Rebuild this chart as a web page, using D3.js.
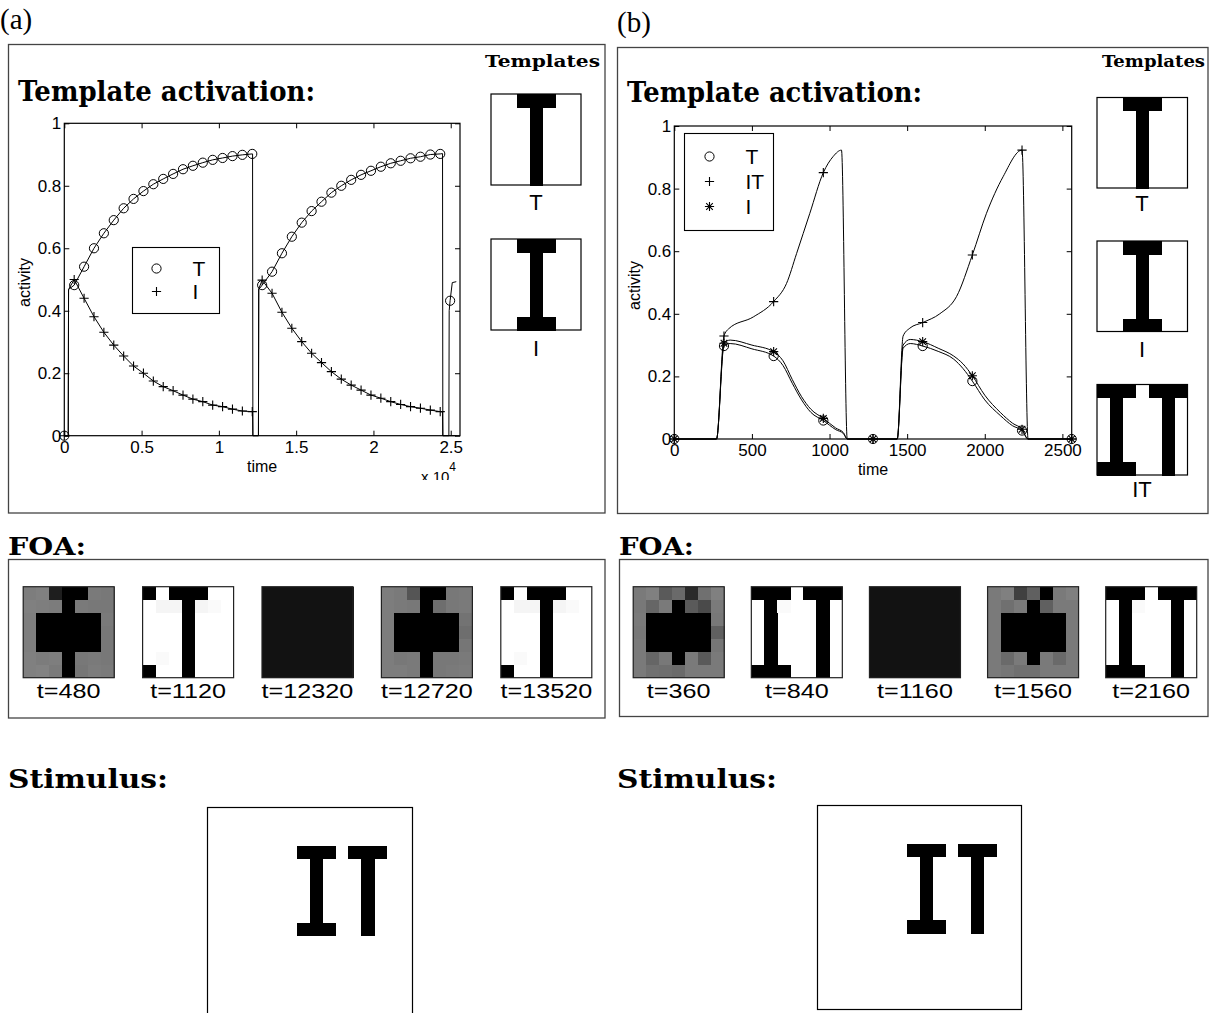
<!DOCTYPE html>
<html lang="en">
<head>
<meta charset="utf-8" />
<title>Template activation / FOA / Stimulus</title>
<script src="https://d3js.org/d3.v7.min.js"></script>
<style>
  body { margin: 0; background: #fff; }
  text { font-family: "Liberation Sans", Arial, sans-serif; fill: #000; }
  .title { font-family: "DejaVu Serif", serif; font-weight: bold; }
  .plabel { font-family: "Liberation Serif", serif; }
  rect.cell { shape-rendering: crispEdges; }
</style>
</head>
<body>
<div id="fig"></div>
<script>
// ---------- panel (a): template activation ----------
var aTimes = [0, 640, 1280, 1920, 2560, 3200, 3840, 4480, 5120, 5760, 6400, 7040, 7680, 8320,
  8960, 9600, 10240, 10880, 11520, 12160, 12800, 13440, 14080, 14720, 15360, 16000, 16640,
  17280, 17920, 18560, 19200, 19840, 20480, 21120, 21760, 22400, 23040, 23680, 24320, 24960];
var aT = [0, .482, .541, .600, .648, .690, .728, .758, .783, .805, .822, .838, .853, .864, .874,
  .883, .889, .895, .899, .902, .482, .525, .584, .637, .682, .719, .749, .778, .800, .819, .835,
  .848, .861, .872, .880, .888, .893, .900, .902, .432];
var aI = [0, .500, .440, .381, .331, .290, .255, .223, .200, .175, .157, .144, .130, .117, .109,
  .098, .093, .085, .079, .077, .498, .456, .395, .344, .301, .264, .234, .205, .181, .162, .146,
  .130, .120, .109, .100, .093, .088, .082, .077, null];
// extra curve points between markers (jumps at the saccades)
var aTEdges = [[255, 0], [275, .468], [12180, .902], [12200, 0], [12560, 0], [12580, .468],
  [24470, .903], [24490, 0], [24880, 0], [24900, .40], [25100, .49], [25360, .493]];
var aIEdges = [[255, 0], [275, .468], [12180, .077], [12200, 0], [12560, 0], [12580, .47],
  [24470, .076], [24490, 0], [25360, 0]];
var aXTicks = [0, 5000, 10000, 15000, 20000, 25000];
var aXLabels = ["0", "0.5", "1", "1.5", "2", "2.5"];

// ---------- panel (b): template activation ----------
var bTimes = [0, 320, 640, 960, 1280, 1600, 1920, 2240, 2560];
var bT  = [0, .297, .265, .059, 0, .297, .185, .027, 0];
var bIT = [0, .329, .439, .851, 0, .372, .588, .923, 0];
var bI  = [0, .306, .279, .066, 0, .311, .202, .031, 0];
var bTEdges = [[272, 0], [360, .305], [500, .288], [700, .235], [760, .178], [820, .125], [880, .085],
  [1040, .03], [1090, .017], [1114, 0], [1436, 0], [1474, .29], [1520, .305], [1700, .28],
  [1800, .255], [1860, .225], [2000, .125], [2100, .075], [2180, .042], [2279, 0]];
var bITEdges = [[272, 0], [350, .352], [509, .39], [723, .497], [788, .593], [873, .721],
  [1024, .903], [1077, .923], [1114, 0], [1436, 0], [1474, .329], [1517, .354], [1710, .4],
  [1818, .455], [2011, .721], [2118, .838], [2279, 0]];
var bIEdges = [[272, 0], [360, .316], [500, .30], [700, .25], [760, .19], [820, .135], [880, .095],
  [1040, .035], [1090, .02], [1114, 0], [1436, 0], [1474, .30], [1520, .318], [1700, .29],
  [1800, .265], [1860, .24], [2000, .14], [2100, .085], [2180, .05], [2279, 0]];
var bXTicks = [0, 500, 1000, 1500, 2000, 2500];
var bXLabels = ["0", "500", "1000", "1500", "2000", "2500"];

var yTicks = [0, 0.2, 0.4, 0.6, 0.8, 1];
var yLabels = ["0", "0.2", "0.4", "0.6", "0.8", "1"];

// ---------- templates (7x7, 1 = black) ----------
var tplT  = ["0011100", "0001000", "0001000", "0001000", "0001000", "0001000", "0001000"];
var tplI  = ["0011100", "0001000", "0001000", "0001000", "0001000", "0001000", "0011100"];
var tplIT = ["1110111", "0100010", "0100010", "0100010", "0100010", "0100010", "1110010"];

// ---------- focus of attention snapshots (grey levels 0..255) ----------
var foaALabels = ["t=480", "t=1120", "t=12320", "t=12720", "t=13520"];
var foaA = [
  [[125,128,30,0,0,122,120],[128,126,124,0,122,120,120],[126,0,0,0,0,0,122],[126,0,0,0,0,0,120],
   [126,0,0,0,0,0,120],[128,124,126,0,120,122,120],[128,130,122,0,118,124,122]],
  [[0,255,0,0,0,255,255],[255,245,245,0,245,250,255],[255,255,255,0,255,255,255],[255,255,255,0,255,255,255],
   [255,255,255,0,255,255,255],[255,250,255,0,255,255,255],[0,255,255,0,255,255,255]],
  [[18,18,18,18,18,18,18],[18,18,18,18,18,18,18],[18,18,18,18,18,18,18],[18,18,18,18,18,18,18],
   [18,18,18,18,18,18,18],[18,18,18,18,18,18,18],[18,18,18,18,18,18,18]],
  [[125,122,85,0,0,120,122],[125,122,120,0,110,120,122],[125,0,0,0,0,0,115],[125,0,0,0,0,0,110],
   [125,0,0,0,0,0,118],[125,120,122,0,120,120,122],[125,125,122,0,120,122,124]],
  [[0,255,0,0,0,255,255],[255,245,245,0,245,250,255],[255,255,255,0,255,255,255],[255,255,255,0,255,255,255],
   [255,255,255,0,255,255,255],[255,250,255,0,255,255,255],[0,255,255,0,255,255,255]]
];
var foaBLabels = ["t=360", "t=840", "t=1160", "t=1560", "t=2160"];
var foaB = [
  [[122,128,90,106,42,112,128],[120,102,122,0,90,74,122],[122,0,0,0,0,0,120],[120,0,0,0,0,0,96],
   [122,0,0,0,0,0,118],[122,102,120,0,122,90,122],[122,112,110,106,122,122,122]],
  [[0,0,0,255,0,0,0],[255,0,250,255,255,0,255],[255,0,255,255,255,0,255],[255,0,255,255,255,0,255],
   [255,0,255,255,255,0,255],[255,0,255,255,255,0,255],[0,0,0,255,255,0,255]],
  [[18,18,18,18,18,18,18],[18,18,18,18,18,18,18],[18,18,18,18,18,18,18],[18,18,18,18,18,18,18],
   [18,18,18,18,18,18,18],[18,18,18,18,18,18,18],[18,18,18,18,18,18,18]],
  [[122,128,64,96,0,122,128],[122,112,122,0,96,122,122],[122,0,0,0,0,0,122],[122,0,0,0,0,0,122],
   [122,0,0,0,0,0,122],[122,106,122,0,122,106,122],[122,118,112,112,122,122,122]],
  [[0,0,0,255,0,0,0],[255,0,250,255,255,0,255],[255,0,255,255,255,0,255],[255,0,255,255,255,0,255],
   [255,0,255,255,255,0,255],[255,0,255,255,255,0,255],[0,0,0,255,255,0,255]]
];

// ---------- stimulus (16x16) ----------
var stimulus = [
  "0000000000000000", "0000000000000000", "0000000000000000",
  "0000000111011100", "0000000010001000", "0000000010001000", "0000000010001000",
  "0000000010001000", "0000000010001000", "0000000111001000",
  "0000000000000000", "0000000000000000", "0000000000000000",
  "0000000000000000", "0000000000000000", "0000000000000000"];

var svg = d3.select("#fig").append("svg")
  .attr("width", 1215).attr("height", 1013);

function title(str, x, y, size, len) {
  svg.append("text").attr("class", "title").attr("x", x).attr("y", y)
    .attr("font-size", size).attr("textLength", len).attr("lengthAdjust", "spacingAndGlyphs")
    .text(str);
}

function frame(x, y, w, h, color) {
  svg.append("rect").attr("x", x).attr("y", y).attr("width", w).attr("height", h)
    .attr("fill", "none").attr("stroke", color || "#444").attr("stroke-width", 1.3);
}

function marker(g, type, cx, cy) {
  if (type === "o") {
    g.append("circle").attr("cx", cx).attr("cy", cy).attr("r", 4.6)
      .attr("fill", "none").attr("stroke", "#000").attr("stroke-width", 1);
  } else {
    var s = 4.6, d = "M" + (cx - s) + "," + cy + "H" + (cx + s) + "M" + cx + "," + (cy - s) + "V" + (cy + s);
    if (type === "*") {
      var k = s * 0.72;
      d += "M" + (cx - k) + "," + (cy - k) + "L" + (cx + k) + "," + (cy + k) +
           "M" + (cx - k) + "," + (cy + k) + "L" + (cx + k) + "," + (cy - k);
    }
    g.append("path").attr("d", d).attr("stroke", "#000").attr("stroke-width", 1.1).attr("fill", "none");
  }
}

function drawPlot(opt) {
  var g = svg.append("g");
  var x = d3.scaleLinear().domain(opt.xDomain).range([opt.left, opt.right]);
  var y = d3.scaleLinear().domain([0, 1]).range([opt.bottom, opt.top]);

  function styleAxis(a) {
    a.select(".domain").remove();
    a.attr("font-family", "Liberation Sans, Arial, sans-serif").attr("font-size", 17);
    a.selectAll(".tick line").attr("stroke", "#000");
  }
  g.append("g").attr("transform", "translate(0," + opt.bottom + ")")
    .call(d3.axisBottom(x).tickValues(opt.xTicks).tickFormat(function (d, i) { return opt.xLabels[i]; })
      .tickSizeInner(-5).tickSizeOuter(0).tickPadding(5)).call(styleAxis);
  g.append("g").attr("transform", "translate(0," + opt.top + ")")
    .call(d3.axisTop(x).tickValues(opt.xTicks).tickFormat("").tickSizeInner(-5).tickSizeOuter(0)).call(styleAxis);
  g.append("g").attr("transform", "translate(" + opt.left + ",0)")
    .call(d3.axisLeft(y).tickValues(yTicks).tickFormat(function (d, i) { return yLabels[i]; })
      .tickSizeInner(-5).tickSizeOuter(0).tickPadding(3)).call(styleAxis);
  g.append("g").attr("transform", "translate(" + opt.right + ",0)")
    .call(d3.axisRight(y).tickValues(yTicks).tickFormat("").tickSizeInner(-5).tickSizeOuter(0)).call(styleAxis);

  g.append("rect").attr("x", opt.left).attr("y", opt.top)
    .attr("width", opt.right - opt.left).attr("height", opt.bottom - opt.top)
    .attr("fill", "none").attr("stroke", "#000").attr("stroke-width", 1.2);

  var line = d3.line().x(function (d) { return x(d[0]); }).y(function (d) { return y(d[1]); }).curve(opt.curve);

  opt.series.forEach(function (s) {
    var pts = opt.times.map(function (t, i) { return [t, s.values[i]]; })
      .filter(function (p) { return p[1] !== null; });
    var curve = pts.concat(s.edges).sort(function (a, b) { return a[0] - b[0]; });
    g.append("path").attr("d", line(curve)).attr("fill", "none")
      .attr("stroke", "#000").attr("stroke-width", 1);
    pts.forEach(function (p) { marker(g, s.marker, x(p[0]), y(p[1])); });
  });

  // axis labels
  g.append("text").attr("x", (opt.left + opt.right) / 2).attr("y", opt.bottom + 36)
    .attr("text-anchor", "middle").attr("font-size", 16).text("time");
  g.append("text").attr("transform", "translate(" + (opt.left - 34) + "," + ((opt.top + opt.bottom) / 2 + 3) + ") rotate(-90)")
    .attr("text-anchor", "middle").attr("font-size", 16).text("activity");

  // legend
  var lg = g.append("g");
  lg.append("rect").attr("x", opt.legend.x).attr("y", opt.legend.y)
    .attr("width", opt.legend.w).attr("height", opt.legend.h)
    .attr("fill", "#fff").attr("stroke", "#000").attr("stroke-width", 1.1);
  opt.series.forEach(function (s, i) {
    var cy = opt.legend.y + opt.legend.first + i * opt.legend.step;
    marker(lg, s.marker, opt.legend.x + opt.legend.mx, cy);
    lg.append("text").attr("x", opt.legend.x + opt.legend.tx).attr("y", cy + 7.5)
      .attr("font-size", 21).text(s.name);
  });
  return g;
}

// ---------- outer frames and panel letters ----------
frame(8.5, 44.5, 596.5, 468.5);
frame(617.5, 47.5, 590.5, 466);
svg.append("text").attr("class", "plabel").attr("x", 0).attr("y", 29).attr("font-size", 29).text("(a)");
svg.append("text").attr("class", "plabel").attr("x", 617).attr("y", 32).attr("font-size", 29).text("(b)");

title("Template activation:", 18, 101, 27, 297);
title("Template activation:", 627, 102, 27, 295);
title("Templates", 485, 67, 16, 115);
title("Templates", 1102, 67, 16, 103);

drawPlot({
  left: 64.3, right: 460, top: 123.3, bottom: 435.7,
  xDomain: [0, 25600], xTicks: aXTicks, xLabels: aXLabels,
  times: aTimes, curve: d3.curveLinear,
  series: [
    { name: "T", marker: "o", values: aT, edges: aTEdges },
    { name: "I", marker: "+", values: aI, edges: aIEdges }
  ],
  legend: { x: 132.5, y: 247.5, w: 87, h: 66, mx: 24, tx: 60, first: 21, step: 23 }
});

// x 10^4 multiplier (clipped like the original)
svg.append("clipPath").attr("id", "clipx").append("rect").attr("x", 400).attr("y", 450).attr("width", 80).attr("height", 30);
var mult = svg.append("text").attr("x", 421).attr("y", 481.5).attr("font-size", 15).attr("clip-path", "url(#clipx)");
mult.append("tspan").text("x 10");
mult.append("tspan").attr("dy", -11).attr("font-size", 12).text("4");

drawPlot({
  left: 674.3, right: 1071.7, top: 126, bottom: 439,
  xDomain: [0, 2560], xTicks: bXTicks, xLabels: bXLabels,
  times: bTimes, curve: d3.curveMonotoneX,
  series: [
    { name: "T", marker: "o", values: bT, edges: bTEdges },
    { name: "IT", marker: "+", values: bIT, edges: bITEdges },
    { name: "I", marker: "*", values: bI, edges: bIEdges }
  ],
  legend: { x: 684.5, y: 133.5, w: 89, h: 97, mx: 25, tx: 61, first: 23, step: 25 }
});

// ---------- binary / grey grids ----------
function grid(x0, y0, w, h, rows, cols, cellValue, border, cellSize) {
  var gx = d3.scaleBand().domain(d3.range(cols)).range([x0, x0 + (cellSize ? cellSize * cols : w)]);
  var gy = d3.scaleBand().domain(d3.range(rows)).range([y0, y0 + (cellSize ? cellSize * rows : h)]);
  var cells = [];
  for (var r = 0; r < rows; r++) for (var c = 0; c < cols; c++) cells.push({ r: r, c: c, v: cellValue(r, c) });
  var g = svg.append("g");
  g.append("rect").attr("x", x0).attr("y", y0).attr("width", w).attr("height", h).attr("fill", "#fff");
  g.selectAll("rect.cell").data(cells.filter(function (d) { return d.v < 255; })).enter().append("rect")
    .attr("class", "cell")
    .attr("x", function (d) { return gx(d.c); }).attr("y", function (d) { return gy(d.r); })
    .attr("width", gx.bandwidth() + 0.6).attr("height", gy.bandwidth() + 0.6)
    .attr("fill", function (d) { return d3.rgb(d.v, d.v, d.v); });
  g.append("rect").attr("x", x0).attr("y", y0).attr("width", w).attr("height", h)
    .attr("fill", "none").attr("stroke", border).attr("stroke-width", 1.2);
}
function binary(pat) { return function (r, c) { return pat[r][c] === "1" ? 0 : 255; }; }

// templates
var tplA = [{ pat: tplT, y: 94, label: "T", ly: 210 }, { pat: tplI, y: 239, label: "I", ly: 356 }];
tplA.forEach(function (t) {
  grid(491, t.y, 90, 91, 7, 7, binary(t.pat), "#000");
  svg.append("text").attr("x", 536).attr("y", t.ly).attr("text-anchor", "middle").attr("font-size", 22).text(t.label);
});
var tplB = [{ pat: tplT, y: 97.5, label: "T", ly: 211 }, { pat: tplI, y: 241, label: "I", ly: 357 },
            { pat: tplIT, y: 384.5, label: "IT", ly: 497 }];
tplB.forEach(function (t) {
  grid(1097, t.y, 90.5, 90.5, 7, 7, binary(t.pat), "#000");
  svg.append("text").attr("x", 1142).attr("y", t.ly).attr("text-anchor", "middle").attr("font-size", 22).text(t.label);
});

// FOA rows
title("FOA:", 8, 555, 25, 78);
title("FOA:", 619, 555, 25, 75);
frame(8.5, 559.5, 596.5, 158.5);
frame(619.5, 559.5, 588.5, 157);
function foaRow(mats, labels, xFirst, xLast) {
  var px = d3.scaleLinear().domain([0, mats.length - 1]).range([xFirst, xLast]);
  mats.forEach(function (m, i) {
    grid(px(i), 586.7, 91, 91, 7, 7, function (r, c) { return m[r][c]; }, "#222");
    svg.append("text").attr("transform", "translate(" + (px(i) + 45.5) + ",698) scale(1.2,1)")
      .attr("text-anchor", "middle").attr("font-size", 21).text(labels[i]);
  });
}
foaRow(foaA, foaALabels, 23.2, 500.8);
foaRow(foaB, foaBLabels, 633.2, 1105.7);

// Stimulus (panel a box runs past the bottom edge, as in the original crop)
title("Stimulus:", 8, 788, 26, 160);
title("Stimulus:", 617, 788, 26, 160);
grid(207.5, 807.5, 205, 215, 16, 16, binary(stimulus), "#000", 12.8);
grid(817.5, 805.5, 204, 204, 16, 16, binary(stimulus), "#000");
</script>
</body>
</html>
